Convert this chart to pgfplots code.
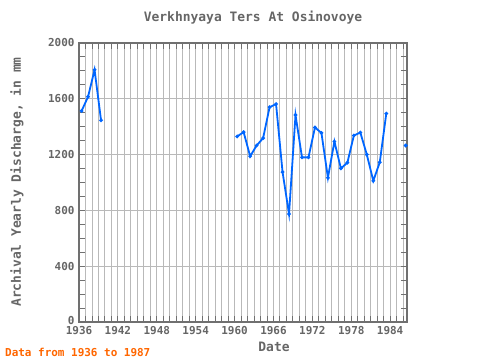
\documentclass[border=0pt]{standalone}
\usepackage{fontspec}
\setmainfont{DejaVu Sans Mono}
\usepackage{pgfplots}
\pgfplotsset{compat=1.18}
\definecolor{txtgray}{RGB}{102,102,102}
\definecolor{framegray}{RGB}{112,112,112}
\definecolor{gridgray}{RGB}{185,185,185}
\definecolor{lineblue}{RGB}{0,102,255}
\definecolor{noteorange}{RGB}{255,102,0}
\pgfplotstableread{
x y
1936.4 1513
1937.4 1615
1938.4 1808
1939.4 1446
1940.4 nan
1960.4 1330
1961.4 1361
1962.4 1188
1963.4 1265
1964.4 1318
1965.4 1540
1966.4 1562
1967.4 1075
1968.4 774
1969.4 1484
1970.4 1180
1971.4 1180
1972.4 1395
1973.4 1355
1974.4 1034
1975.4 1294
1976.4 1101
1977.4 1142
1978.4 1337
1979.4 1358
1980.4 1200
1981.4 1012
1982.4 1145
1983.4 1494
1984.4 nan
1986.4 1265
}\datatable
\begin{document}
\begin{tikzpicture}[x=1bp,y=1bp]
\useasboundingbox (0,0) rectangle (480,360);
\begin{axis}[
  at={(79bp,38bp)}, anchor=south west, scale only axis,
  width=328bp, height=279bp,
  xmin=1936, xmax=1986.6, ymin=0, ymax=2000,
  xtick={1936,1942,...,1984},
  minor xtick={1936,1937,...,1986},
  ytick={0,400,...,2000},
  yticklabels={\raisebox{4bp}{0},400,800,1200,1600,\raisebox{-4bp}{2000}},
  minor ytick={100,200,...,1900},
  xmajorgrids, xminorgrids, ymajorgrids,
  major grid style={draw=gridgray, line width=0.9bp},
  minor grid style={draw=gridgray, line width=0.9bp},
  tick align=inside, tick pos=both,
  major tick length=6bp, minor tick length=6bp,
  every tick/.style={draw=framegray, line width=0.9bp},
  every minor tick/.style={draw=framegray, line width=0.9bp},
  axis line style={draw=framegray, line width=1.8bp},
  /pgf/number format/assume math mode=true,
  /pgf/number format/1000 sep={},
  tick label style={font=\bfseries\fontsize{11}{11}\selectfont, text=txtgray},
  xticklabel style={yshift=-1bp},
  yticklabel style={xshift=-1bp},
  unbounded coords=jump,
]
\addplot[color=lineblue, line width=1.8bp, mark=*, mark size=0.8bp] table[x=x,y=y] {\datatable};
\addplot[color=lineblue, only marks, mark=*, mark size=1.5bp] coordinates {(1986.4,1265)};
\end{axis}
\node[text=txtgray, font=\bfseries\fontsize{13}{13}\selectfont] at (253,342) {Verkhnyaya Ters At Osinovoye};
\node[text=txtgray, font=\bfseries\fontsize{13}{13}\selectfont, rotate=90] at (17,178) {Archival Yearly Discharge, in mm};
\node[text=txtgray, font=\bfseries\fontsize{13}{13}\selectfont] at (274,13) {Date};
\node[text=noteorange, font=\bfseries\fontsize{11}{11}\selectfont, anchor=west, inner sep=0pt] at (5,8) {Data from 1936 to 1987};
\end{tikzpicture}
\end{document}
